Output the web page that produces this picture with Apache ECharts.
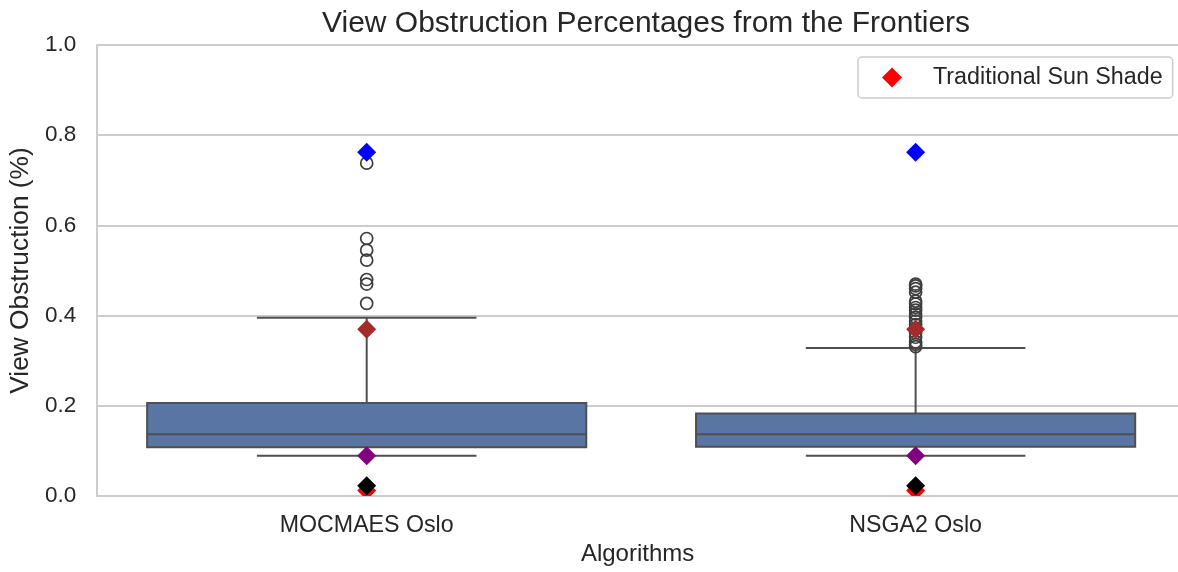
<!DOCTYPE html>
<html>
<head>
<meta charset="utf-8">
<script src="https://cdn.jsdelivr.net/npm/echarts@6/dist/echarts.min.js"></script>
<style>
  html, body { margin: 0; padding: 0; background: #fff; }
  #ec { width: 1178px; height: 572px; }
</style>
</head>
<body>
<div id="ec"></div>
<script>
// categories and box statistics
var categories = ['MOCMAES Oslo', 'NSGA2 Oslo']
var whiskerLow = [0.089, 0.089]
var q1 = [0.108, 0.109]
var median = [0.137, 0.137]
var q3 = [0.206, 0.183]
var whiskerHigh = [0.395, 0.328]

// fliers
var mocmaesOutliers = [0.738, 0.571, 0.545, 0.523, 0.480, 0.470, 0.427]
var nsga2Outliers = [0.470, 0.466, 0.460, 0.452, 0.432, 0.426, 0.418, 0.412, 0.404,
  0.396, 0.388, 0.380, 0.372, 0.362, 0.352, 0.342, 0.336, 0.331]

// highlighted solutions (one value per category)
var blueMarks = [0.762, 0.762]
var brownMarks = [0.370, 0.370]
var purpleMarks = [0.089, 0.089]
var blackMarks = [0.023, 0.023]
var sunShade = [0.012, 0.012]

var font = "'Liberation Sans', Arial, sans-serif"
var txt = '#262626'

function pts(arr) {
  return arr.map(function (v, i) { return [i, v] })
}

var boxData = categories.map(function (c, i) {
  return [i, whiskerLow[i], q1[i], median[i], q3[i], whiskerHigh[i]]
})

var outlierData = mocmaesOutliers.map(function (v) { return [0, v] })
  .concat(nsga2Outliers.map(function (v) { return [1, v] }))

function diamondSeries(name, color, arr, z) {
  return {
    name: name,
    type: 'scatter',
    symbol: 'diamond',
    symbolSize: [19, 19],
    itemStyle: { color: color, opacity: 1 },
    data: pts(arr),
    z: z,
    silent: true
  }
}

var chart = echarts.init(document.getElementById('ec'))
chart.setOption({
  animation: false,
  backgroundColor: '#fff',
  textStyle: { fontFamily: font },
  title: {
    text: 'View Obstruction Percentages from the Frontiers',
    left: 317,
    top: 4,
    textStyle: { fontFamily: font, fontSize: 30, fontWeight: 'normal', color: txt }
  },
  legend: {
    data: [{ name: 'Traditional Sun Shade', icon: 'diamond', itemStyle: { color: '#ff0000' } }],
    left: 858,
    top: 57,
    padding: [9, 10, 9, 24],
    itemWidth: 20,
    itemHeight: 20,
    borderColor: '#cccccc',
    borderWidth: 1.5,
    borderRadius: 4,
    selectedMode: false,
    textStyle: { fontFamily: font, fontSize: 23.3, color: txt, padding: [0, 0, 0, 26] }
  },
  grid: { left: 97, right: 0, top: 45, bottom: 76 },
  xAxis: {
    type: 'value',
    min: -0.491,
    max: 1.478,
    name: 'Algorithms',
    nameLocation: 'middle',
    nameGap: 46,
    nameTextStyle: { fontFamily: font, fontSize: 24, color: txt },
    splitLine: { show: false },
    axisTick: { show: false },
    axisLine: { onZero: false, lineStyle: { color: '#cccccc', width: 2 } },
    axisLabel: {
      customValues: [0, 1],
      margin: 18,
      fontSize: 23.2,
      color: txt,
      fontFamily: font,
      formatter: function (v) { return categories[Math.round(v)] }
    }
  },
  yAxis: {
    type: 'value',
    min: 0,
    max: 1,
    interval: 0.2,
    name: 'View Obstruction (%)',
    nameLocation: 'middle',
    nameGap: 63,
    nameTextStyle: { fontFamily: font, fontSize: 26.3, color: txt },
    axisLine: { show: true, onZero: false, lineStyle: { color: '#cccccc', width: 2 } },
    axisTick: { show: false },
    splitLine: { lineStyle: { color: '#cccccc', width: 1.8 } },
    axisLabel: {
      margin: 21,
      fontSize: 22.5,
      color: txt,
      fontFamily: font,
      formatter: function (v) { return v.toFixed(1) }
    }
  },
  series: [
    {
      type: 'custom',
      z: 2,
      silent: true,
      data: boxData,
      renderItem: function (params, api) {
        var x = api.value(0)
        var pLo = api.coord([x, api.value(1)])
        var pQ1 = api.coord([x, api.value(2)])
        var pMed = api.coord([x, api.value(3)])
        var pQ3 = api.coord([x, api.value(4)])
        var pHi = api.coord([x, api.value(5)])
        var half = api.size([0.4, 0])[0]
        var cap = half / 2
        var st = { stroke: '#4f4f4f', lineWidth: 2, fill: null }
        return {
          type: 'group',
          children: [
            { type: 'line', shape: { x1: pQ3[0], y1: pQ3[1], x2: pHi[0], y2: pHi[1] }, style: st },
            { type: 'line', shape: { x1: pQ1[0], y1: pQ1[1], x2: pLo[0], y2: pLo[1] }, style: st },
            { type: 'line', shape: { x1: pHi[0] - cap, y1: pHi[1], x2: pHi[0] + cap, y2: pHi[1] }, style: st },
            { type: 'line', shape: { x1: pLo[0] - cap, y1: pLo[1], x2: pLo[0] + cap, y2: pLo[1] }, style: st },
            {
              type: 'rect',
              shape: { x: pQ3[0] - half, y: pQ3[1], width: half * 2, height: pQ1[1] - pQ3[1] },
              style: { fill: '#5875a4', stroke: '#4f4f4f', lineWidth: 2 }
            },
            { type: 'line', shape: { x1: pMed[0] - half, y1: pMed[1], x2: pMed[0] + half, y2: pMed[1] }, style: st }
          ]
        }
      }
    },
    {
      type: 'scatter',
      z: 3,
      silent: true,
      symbol: 'circle',
      symbolSize: 12,
      itemStyle: { color: 'rgba(0,0,0,0)', borderColor: '#3d3d3d', borderWidth: 1.7, opacity: 1 },
      data: outlierData
    },
    {
      name: 'Traditional Sun Shade',
      type: 'custom',
      z: 4,
      clip: true,
      silent: true,
      itemStyle: { color: '#ff0000' },
      data: pts(sunShade),
      renderItem: function (params, api) {
        var p = api.coord([api.value(0), api.value(1)])
        var r = 9.5
        return {
          type: 'polygon',
          shape: { points: [[p[0], p[1] - r], [p[0] + r, p[1]], [p[0], p[1] + r], [p[0] - r, p[1]]] },
          style: { fill: '#ff0000' }
        }
      }
    },
    diamondSeries('black', '#000000', blackMarks, 5),
    diamondSeries('purple', '#800080', purpleMarks, 5),
    diamondSeries('brown', '#a52a2a', brownMarks, 5),
    diamondSeries('blue', '#0000ff', blueMarks, 5)
  ]
})
window.addEventListener('resize', function () { chart.resize() })
</script>
</body>
</html>
